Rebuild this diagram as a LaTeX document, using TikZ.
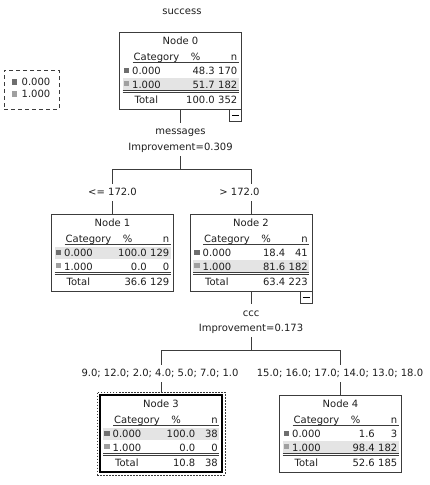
\documentclass[tikz,border=0pt]{standalone}
\usepackage{fontspec}
\setmainfont{DejaVu Sans}
\usetikzlibrary{positioning,fit,calc}
\definecolor{treeline}{RGB}{60,60,60}
\definecolor{treetext}{RGB}{30,30,30}
\definecolor{catzero}{RGB}{110,110,110}
\definecolor{catone}{RGB}{160,160,160}
\definecolor{rowshade}{RGB}{228,228,228}
\tikzset{
  treebox/.style={draw=treeline,line width=0.8pt,minimum width=122pt,
                  minimum height=77pt,inner sep=0pt},
  cell/.style={font=\fontsize{10}{12}\selectfont,text=treetext,
               inner sep=0pt,text height=7pt,text depth=0pt},
  tablerule/.style={draw=treeline,line width=0.8pt},
  conn/.style={draw=treeline,line width=0.8pt},
  lbl/.style={cell,fill=white,inner xsep=2pt,inner ysep=5pt},
  minusbox/.style={draw=treeline,line width=0.8pt,minimum size=12pt,
                   inner sep=0pt,fill=white},
  selframe/.style={draw=black,line width=2pt},
  selfit/.style={draw=treeline,dash pattern=on 1.5pt off 1.5pt,
                 line width=0.8pt,inner sep=2.5pt},
  legendbox/.style={draw=treeline,dash pattern=on 4pt off 3pt,line width=0.8pt,
                    minimum width=55pt,minimum height=39pt,inner sep=0pt},
  swatch/.style={minimum size=5.5pt,inner sep=0pt},
}
% #1 name, #2 top left, #3 node number, #4-#5 row 0.000, #6-#7 row 1.000, #8-#9 total
\newcommand{\spsstable}[9]{%
  \begin{scope}[shift={#2}]
    \ifnum#5>#7\relax
      \fill[rowshade] (3,33) rectangle (119,45);
    \else
      \fill[rowshade] (3,46) rectangle (119,58);
    \fi
    \node[treebox] (#1) at (61,38.5) {};
    \node[cell] at (61,9) {Node #3};
    \node[cell,anchor=west] at (14,24.5) {Category};
    \node[cell] at (76,24.5) {\%};
    \node[cell,anchor=east] at (118,24.5) {n};
    \draw[tablerule] (13,30.5) -- (119,30.5);
    \fill[catzero] (4,35.5) rectangle (9.5,41);
    \node[cell,anchor=west] at (12.5,39) {0.000};
    \node[cell,anchor=east] at (95.5,39) {#4};
    \node[cell,anchor=east] at (118,39) {#5};
    \fill[catone] (4,48.5) rectangle (9.5,54);
    \node[cell,anchor=west] at (12.5,52.5) {1.000};
    \node[cell,anchor=east] at (95.5,52.5) {#6};
    \node[cell,anchor=east] at (118,52.5) {#7};
    \draw[tablerule] (3,58.5) -- (119,58.5);
    \draw[tablerule] (3,60.5) -- (119,60.5);
    \node[cell,anchor=west] at (15,67.5) {Total};
    \node[cell,anchor=east] at (95.5,67.5) {#8};
    \node[cell,anchor=east] at (118,67.5) {#9};
  \end{scope}}

\begin{document}
\begin{tikzpicture}[x=1pt,y=-1pt]
  \useasboundingbox (0,0) rectangle (429,485);
  \node[cell] (target) at (182,10.5) {success};

  \node[legendbox] (legend) at (31.5,89.5) {};
  \node[swatch,fill=catzero] (lg0) at (14.5,82) {};
  \node[cell,right=4pt of lg0] (lg0t) {0.000};
  \node[swatch,fill=catone] (lg1) at (14.5,94) {};
  \node[cell,right=4pt of lg1] (lg1t) {1.000};

  \spsstable{n0}{(119.5,32)}{0}{48.3}{170}{51.7}{182}{100.0}{352}
  \spsstable{n1}{(51.5,214)}{1}{100.0}{129}{0.0}{0}{36.6}{129}
  \spsstable{n2}{(190,214)}{2}{18.4}{41}{81.6}{182}{63.4}{223}
  \spsstable{n3}{(100,395)}{3}{100.0}{38}{0.0}{0}{10.8}{38}
  \spsstable{n4}{(279.5,395)}{4}{1.6}{3}{98.4}{182}{52.6}{185}

  \draw[selframe] (n3.north west) rectangle (n3.south east);
  \node[selfit,fit=(n3)] (n3sel) {};
  \node[minusbox,anchor=north east] (n0min) at (n0.south east) {\rule[-0.4pt]{7pt}{0.8pt}};
  \node[minusbox,anchor=north east] (n2min) at (n2.south east) {\rule[-0.4pt]{7pt}{0.8pt}};

  \coordinate (s0) at (180.5,169);
  \coordinate (s2) at (251,350);
  \draw[conn] (n0.south) -- (s0);
  \draw[conn] (s0) -| (n1.north);
  \draw[conn] (s0) -| (n2.north);
  \draw[conn] (n2.south) -- (s2);
  \draw[conn] (s2) -| (n3sel.north);
  \draw[conn] (s2) -| (n4.north);

  \node[lbl] (sp0a) at (180.5,131) {messages};
  \node[lbl] (sp0b) at (180.5,147) {Improvement=0.309};
  \node[lbl] (e1) at (112.5,192) {<= 172.0};
  \node[lbl] (e2) at (239.5,192) {> 172.0};
  \node[lbl] (sp2a) at (251,312.5) {ccc};
  \node[lbl] (sp2b) at (251,328) {Improvement=0.173};
  \node[lbl] (e3) at (160,373) {9.0; 12.0; 2.0; 4.0; 5.0; 7.0; 1.0};
  \node[lbl] (e4) at (340,373) {15.0; 16.0; 17.0; 14.0; 13.0; 18.0};
\end{tikzpicture}
\end{document}
